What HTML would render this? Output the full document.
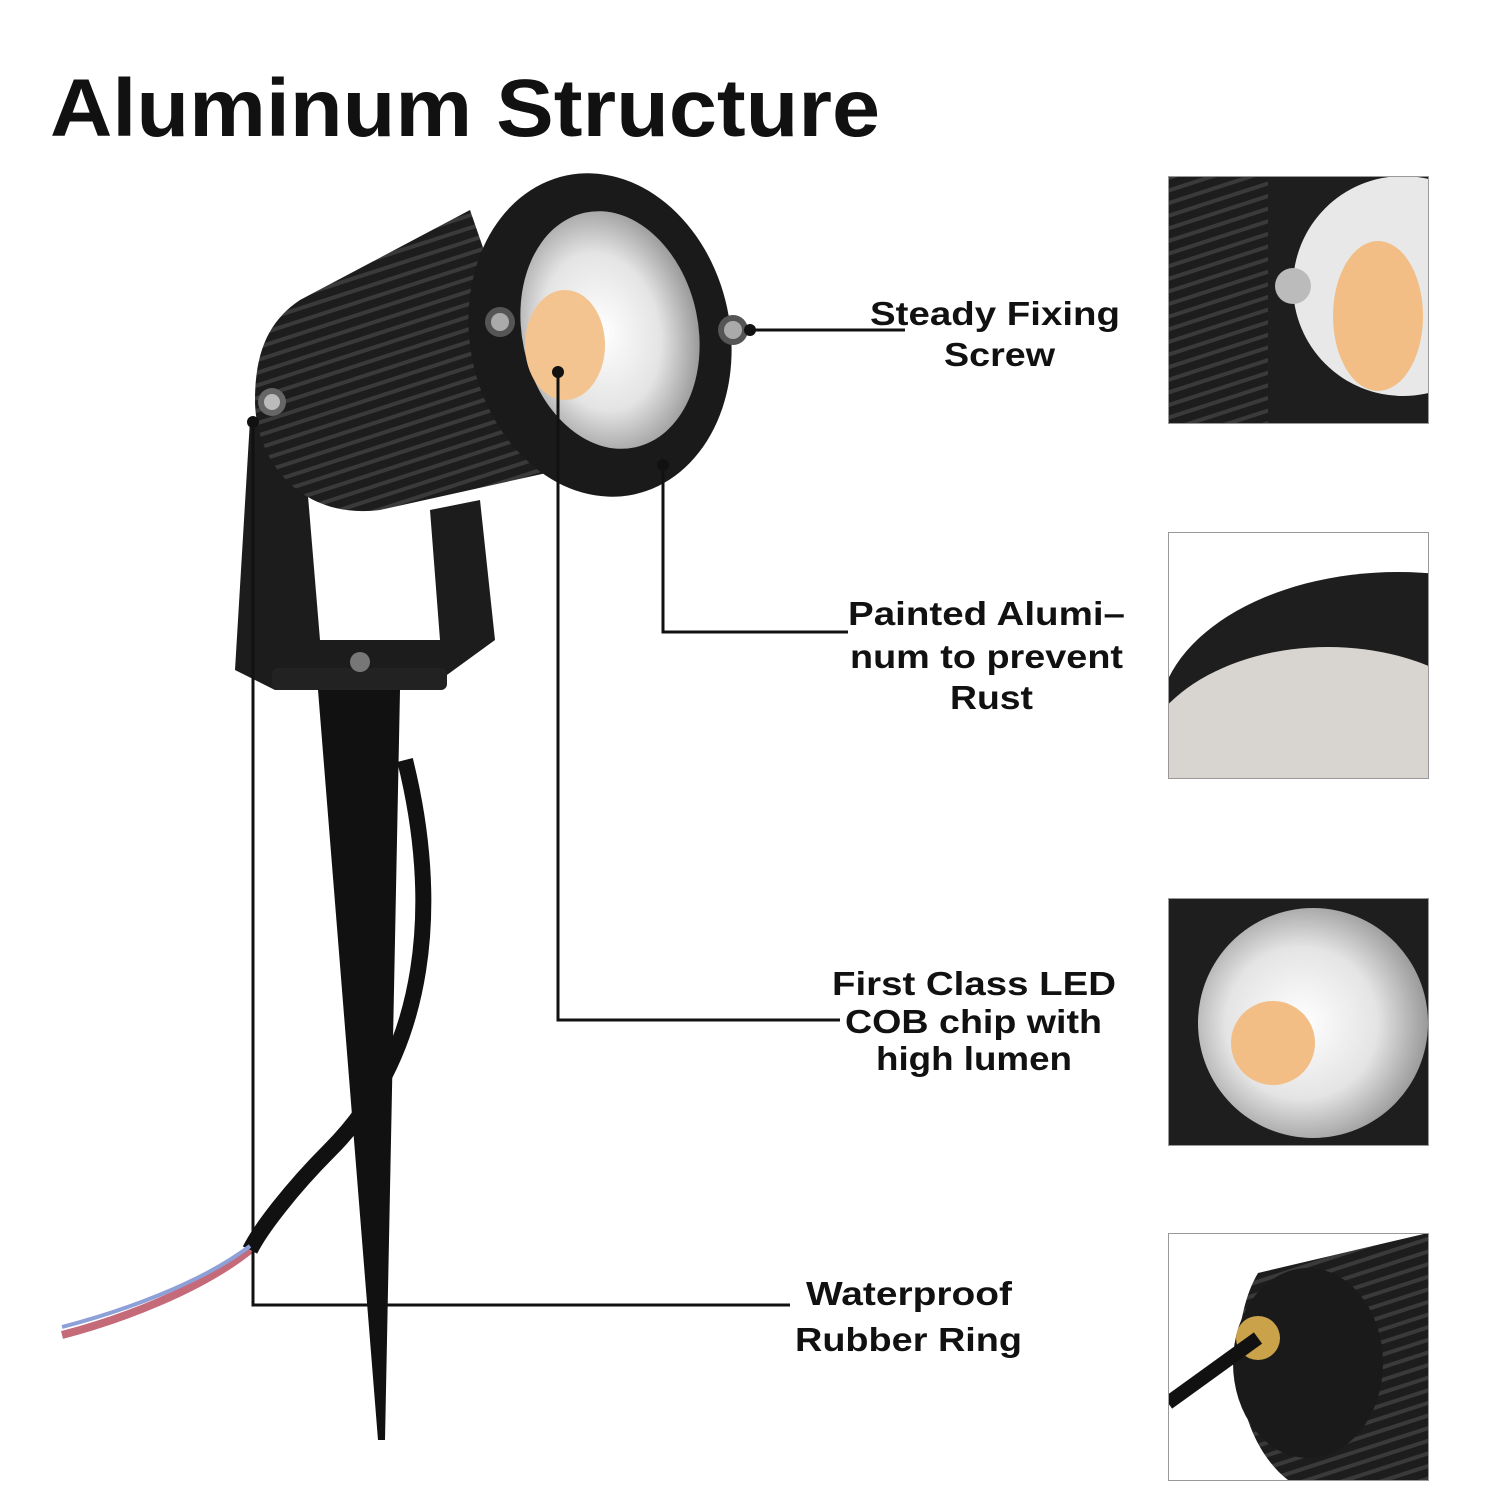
<!DOCTYPE html>
<html><head><meta charset="utf-8"><style>
html,body{margin:0;padding:0;background:#fff;width:1500px;height:1500px;overflow:hidden}
svg{display:block}
text{font-family:"Liberation Sans",sans-serif;font-weight:bold;fill:#111}
</style></head><body>
<svg width="1500" height="1500" viewBox="0 0 1500 1500">
<defs>
<radialGradient id="refl" cx="0.45" cy="0.5" r="0.55">
<stop offset="0" stop-color="#fff"/><stop offset="0.6" stop-color="#e4e4e4"/><stop offset="1" stop-color="#9a9a9a"/></radialGradient>
<pattern id="fin" width="12" height="12" patternUnits="userSpaceOnUse" patternTransform="rotate(-18)"><rect width="12" height="12" fill="#1d1d1d"/><rect width="12" height="4" fill="#3a3a3a"/></pattern>
</defs>
<rect width="1500" height="1500" fill="#fff"/>
<text x="50" y="136" font-size="82" textLength="830" lengthAdjust="spacingAndGlyphs">Aluminum Structure</text>

<!-- spike -->
<polygon points="318,690 400,690 385,1440 378,1440" fill="#111"/>
<path d="M405,760 C440,900 430,1050 330,1150 C290,1190 260,1230 250,1250" stroke="#111" stroke-width="16" fill="none"/>
<path d="M250,1250 C200,1290 120,1320 62,1335" stroke="#c46a78" stroke-width="8" fill="none"/>
<path d="M250,1246 C200,1284 120,1312 62,1327" stroke="#8ea0d8" stroke-width="4" fill="none"/>
<!-- bracket -->
<polygon points="250,420 300,400 320,640 440,640 430,510 480,500 495,640 440,680 275,690 235,670" fill="#1c1c1c"/>
<rect x="272" y="668" width="175" height="22" rx="6" fill="#222"/>
<circle cx="360" cy="662" r="10" fill="#777"/>
<!-- body -->
<path d="M300,300 L470,210 L560,470 L380,510 C300,520 255,460 255,400 C255,350 270,320 300,300 Z" fill="url(#fin)"/>
<circle cx="272" cy="402" r="14" fill="#666"/><circle cx="272" cy="402" r="8" fill="#bbb"/>
<!-- head ring -->
<ellipse cx="600" cy="335" rx="130" ry="163" transform="rotate(-12 600 335)" fill="#1a1a1a"/>
<ellipse cx="610" cy="330" rx="88" ry="120" transform="rotate(-12 610 330)" fill="url(#refl)"/>
<ellipse cx="565" cy="345" rx="40" ry="55" fill="#f3c490"/>
<circle cx="500" cy="322" r="15" fill="#555"/><circle cx="500" cy="322" r="9" fill="#aaa"/>
<circle cx="733" cy="330" r="15" fill="#555"/><circle cx="733" cy="330" r="9" fill="#aaa"/>

<!-- connectors -->
<g stroke="#111" stroke-width="3" fill="none">
<path d="M750,330 H905"/>
<path d="M663,465 V632 H848"/>
<path d="M558,372 V1020 H840"/>
<path d="M253,422 V1305 H790"/>
</g>
<g fill="#111"><circle cx="750" cy="330" r="6"/><circle cx="663" cy="465" r="6"/><circle cx="558" cy="372" r="6"/><circle cx="253" cy="422" r="6"/></g>

<!-- labels -->
<g font-size="33" lengthAdjust="spacingAndGlyphs">
<text x="870" y="325" textLength="250" lengthAdjust="spacingAndGlyphs">Steady Fixing</text>
<text x="944" y="366" textLength="111" lengthAdjust="spacingAndGlyphs">Screw</text>
<text x="848" y="625" textLength="277" lengthAdjust="spacingAndGlyphs">Painted Alumi–</text>
<text x="850" y="668" textLength="273" lengthAdjust="spacingAndGlyphs">num to prevent</text>
<text x="950" y="709" textLength="83" lengthAdjust="spacingAndGlyphs">Rust</text>
<text x="832" y="995" textLength="284" lengthAdjust="spacingAndGlyphs">First Class LED</text>
<text x="845" y="1033" textLength="257" lengthAdjust="spacingAndGlyphs">COB chip with</text>
<text x="876" y="1070" textLength="196" lengthAdjust="spacingAndGlyphs">high lumen</text>
<text x="806" y="1305" textLength="206" lengthAdjust="spacingAndGlyphs">Waterproof</text>
<text x="795" y="1351" textLength="227" lengthAdjust="spacingAndGlyphs">Rubber Ring</text>
</g>

<!-- panels -->
<g>
<svg x="1168" y="176" width="260" height="247"><rect width="260" height="247" fill="#1e1e1e"/><rect width="100" height="247" fill="url(#fin)"/><circle cx="235" cy="110" r="110" fill="#e8e8e8"/><ellipse cx="210" cy="140" rx="45" ry="75" fill="#f2be85"/><circle cx="125" cy="110" r="18" fill="#bbb"/></svg>
<rect x="1168.5" y="176.5" width="260" height="247" fill="none" stroke="#999"/>
<svg x="1168" y="532" width="260" height="246"><rect width="260" height="246" fill="#fff"/><ellipse cx="230" cy="190" rx="240" ry="150" fill="#1e1e1e"/><ellipse cx="160" cy="240" rx="190" ry="125" fill="#d8d5d0"/></svg>
<rect x="1168.5" y="532.5" width="260" height="246" fill="none" stroke="#999"/>
<svg x="1168" y="898" width="260" height="247"><rect width="260" height="247" fill="#1e1e1e"/><circle cx="145" cy="125" r="115" fill="url(#refl)"/><circle cx="105" cy="145" r="42" fill="#f2be85"/></svg>
<rect x="1168.5" y="898.5" width="260" height="247" fill="none" stroke="#999"/>
<svg x="1168" y="1233" width="260" height="247"><rect width="260" height="247" fill="#fff"/><path d="M90,40 L260,0 L260,247 L120,247 C60,200 60,90 90,40Z" fill="url(#fin)"/><ellipse cx="140" cy="130" rx="75" ry="95" fill="#1a1a1a"/><circle cx="90" cy="105" r="22" fill="#c9a24a"/><path d="M90,105 L0,170" stroke="#111" stroke-width="14"/></svg>
<rect x="1168.5" y="1233.5" width="260" height="247" fill="none" stroke="#999"/>
</g>
</svg>
</body></html>
